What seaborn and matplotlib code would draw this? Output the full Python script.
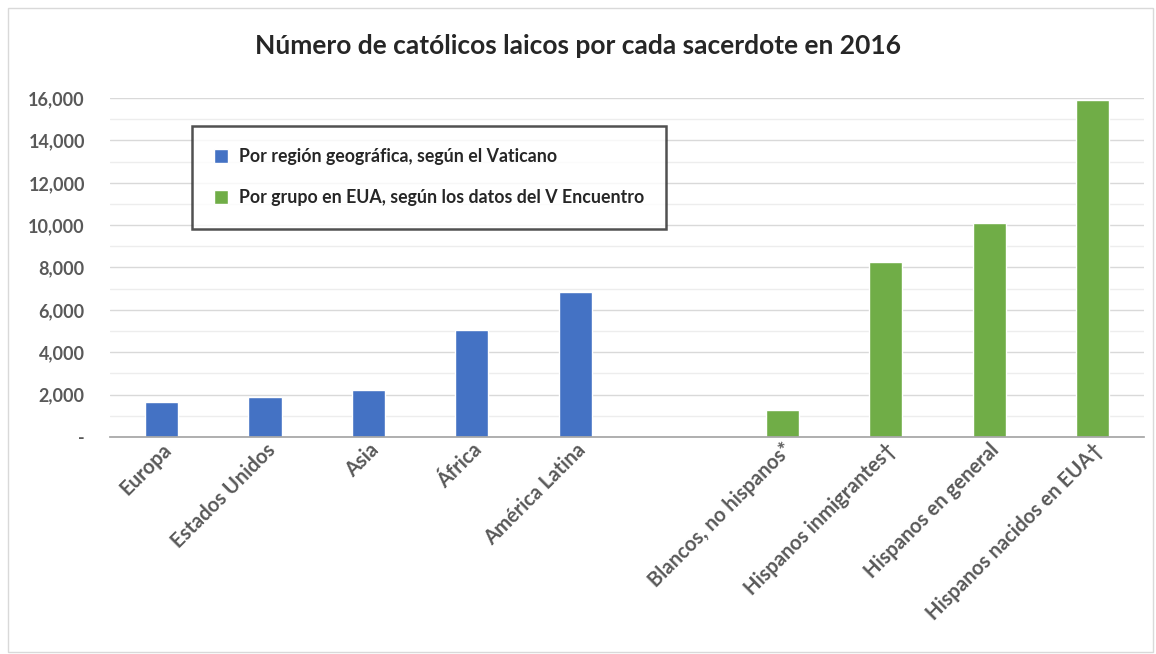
import numpy as np
import pandas as pd
import seaborn as sns
import matplotlib.pyplot as plt
from matplotlib.ticker import MultipleLocator, FuncFormatter
from matplotlib.patches import Rectangle

# datos
regiones = ['Europa', 'Estados Unidos', 'Asia', 'África', 'América Latina']
valores_region = [1650, 1900, 2200, 5050, 6850]
grupos = ['Blancos, no hispanos*', 'Hispanos inmigrantes†', 'Hispanos en general', 'Hispanos nacidos en EUA†']
valores_grupo = [1250, 8250, 10100, 15900]
serie_region = 'Por región geográfica, según el Vaticano'
serie_grupo = 'Por grupo en EUA, según los datos del V Encuentro'
hueco = ' '  # espacio vacío entre los dos grupos

df = pd.DataFrame({
    'categoria': regiones + grupos,
    'valor': valores_region + valores_grupo,
    'serie': [serie_region] * len(regiones) + [serie_grupo] * len(grupos),
})
orden = regiones + [hueco] + grupos

sns.set_theme(style='white')
plt.rcParams['font.family'] = ['Lato', 'DejaVu Sans']

fig = plt.figure(figsize=(11.56, 6.54), dpi=100)
ax = fig.add_axes([0.095, 0.332, 0.895, 0.518])

sns.barplot(data=df, x='categoria', y='valor', hue='serie', order=orden,
            hue_order=[serie_region, serie_grupo],
            palette=['#4472C4', '#70AD47'], dodge=False, width=0.32,
            saturation=1, ax=ax)

ax.set_ylim(0, 16000)
ax.set_xlim(-0.5, 9.5)
ax.yaxis.set_major_locator(MultipleLocator(2000))
ax.yaxis.set_minor_locator(MultipleLocator(1000))
ax.yaxis.set_major_formatter(FuncFormatter(lambda v, p: '-' if v == 0 else f'{int(v):,}'))
ax.grid(axis='y', which='major', color='#D9D9D9', linewidth=1.0)
ax.grid(axis='y', which='minor', color='#EDEDED', linewidth=1.0)
ax.set_axisbelow(True)
for s in ['top', 'right', 'left']:
    ax.spines[s].set_visible(False)
ax.spines['bottom'].set_color('#A6A6A6')
ax.set_xlabel('')
ax.set_ylabel('')
ax.tick_params(axis='y', which='both', length=0, pad=18, labelsize=13, labelcolor='#595959')
ax.tick_params(axis='x', length=0, pad=2, labelsize=14.5, labelcolor='#595959')
for lab in ax.get_yticklabels():
    lab.set_fontweight('bold')
plt.setp(ax.get_xticklabels(), rotation=45, ha='right', rotation_mode='anchor', fontweight='bold')

leg = ax.legend(loc='upper left', bbox_to_anchor=(0.079, 0.917), frameon=True, fancybox=False,
                edgecolor='#262626', fontsize=12.8, handlelength=0.8, handleheight=0.8,
                borderpad=1.25, labelspacing=1.35, handletextpad=0.6, borderaxespad=0)
leg.get_frame().set_linewidth(1.8)
for t in leg.get_texts():
    t.set_fontweight('bold')
    t.set_color('#262626')

fig.suptitle('Número de católicos laicos por cada sacerdote en 2016', x=0.5, y=0.948,
             fontsize=19, fontweight='bold', color='#262626')

fig.patches.append(Rectangle((0.007, 0.003), 0.99, 0.985, transform=fig.transFigure,
                             fill=False, edgecolor='#D9D9D9', linewidth=1.0))

fig.savefig('out.png', dpi=100)
